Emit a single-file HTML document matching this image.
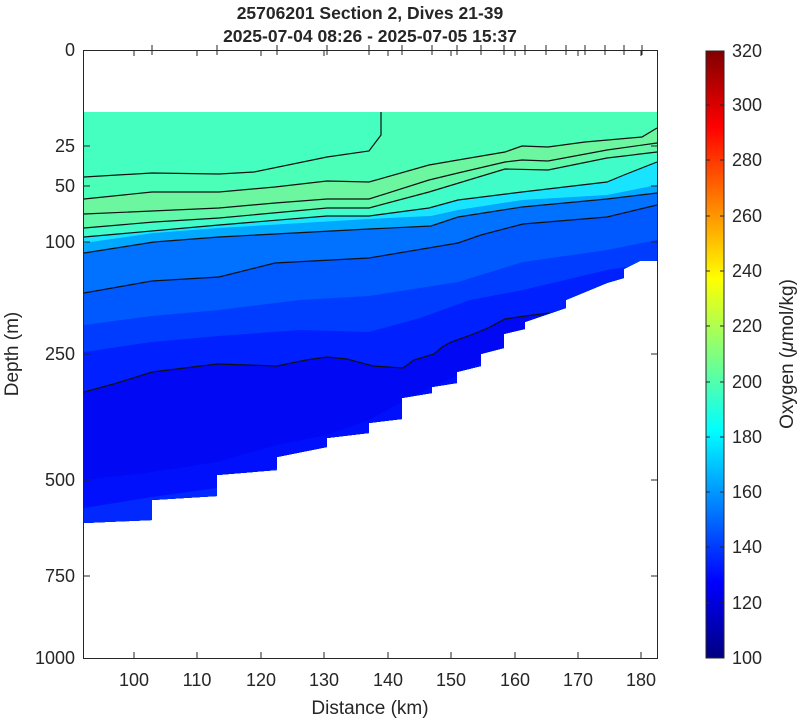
<!DOCTYPE html>
<html><head><meta charset="utf-8"><style>
html,body{margin:0;padding:0;background:#fff;}
svg{display:block;font-family:"Liberation Sans",sans-serif;}
</style></head><body>
<svg width="800" height="721" viewBox="0 0 800 721" xmlns="http://www.w3.org/2000/svg">
<defs>
<clipPath id="dom">
<polygon points="84,112 657,112 657,261 640,261 624,269 624,278 607,283 566,300 566,308 525,322 525,329 504,334 504,348 481,354 481,366 457,372 457,383 432,387 432,393 402,398 402,419 369,423 369,433 327,438 327,447 277,457 277,470 217,475 217,496 152,500 152,520 84,523"/>
</clipPath>
<linearGradient id="jet" x1="0" y1="1" x2="0" y2="0">
<stop offset="0" stop-color="#000080"/>
<stop offset="0.125" stop-color="#0000ff"/>
<stop offset="0.375" stop-color="#00ffff"/>
<stop offset="0.625" stop-color="#ffff00"/>
<stop offset="0.875" stop-color="#ff0000"/>
<stop offset="1" stop-color="#800000"/>
</linearGradient>
</defs>
<g clip-path="url(#dom)">
<rect x="84" y="100" width="573" height="440" fill="#45ffc0"/>
<polygon fill="#4cffb8" points="84,177 152,173 219,174 254,172 327,157 369,151 381,135 381,112 657,112 657,700 84,700"/>
<polygon fill="#6cf6a0" points="84,199 152,192 219,192 275,187 327,181 369,182 429,165 458,160 505,152 522,146 548,147 585,142 642,137 657,128 657,700 84,700"/>
<polygon fill="#60f9aa" points="84,214 219,208 275,203 327,199 369,199 429,180 458,173 505,162 522,160 548,161 607,150 657,143 657,700 84,700"/>
<polygon fill="#40fcc8" points="84,228 154,222 219,218 327,208 369,208 429,192 505,169 548,170 607,158 624,156 657,152 657,700 84,700"/>
<polygon fill="#18e4ff" points="84,237 219,225 327,216 369,216 429,208 458,200 522,192 607,182 624,175 657,162 657,700 84,700"/>
<polygon fill="#00a8ff" points="84,243 154,233 219,228 369,219 431,216 458,210 522,200 607,195 657,185 657,700 84,700"/>
<polygon fill="#0072ff" points="84,253 154,242 219,237 369,229 431,226 458,217 522,207 607,199 657,193 657,700 84,700"/>
<polygon fill="#0058ff" points="84,293 152,281 219,277 275,263 369,258 458,243 481,235 523,224 607,217 657,205 657,700 84,700"/>
<polygon fill="#003cff" points="84,325 152,316 219,310 300,300 369,296 458,282 523,262 607,250 657,240 657,700 84,700"/>
<polygon fill="#0020ff" points="84,352 152,342 219,336 300,330 369,332 420,318 470,300 523,290 607,270 657,262 657,700 84,700"/>
<polygon fill="#0008f4" points="84,392 117,383 152,372 217,364 277,366 306,360 327,357 347,359 373,366 403,368 414,360 434,354 442,347 451,342 471,335 488,328 505,319 525,316 549,313 600,300 657,300 657,700 84,700"/>
<polygon fill="#0010fc" points="84,480 152,472 217,462 277,445 327,435 369,420 402,402 432,387 457,376 481,362 504,346 525,328 549,314 657,314 657,700 84,700"/>
<polygon fill="#0028ff" points="84,508 152,497 217,488 277,468 327,447 369,432 657,432 657,700 84,700"/>
</g>
<g fill="none" stroke="#111" stroke-width="1.2">
<polyline points="84,177 152,173 219,174 254,172 327,157 369,151 381,135 381,112"/>
<polyline points="84,199 152,192 219,192 275,187 327,181 369,182 429,165 458,160 505,152 522,146 548,147 585,142 642,137 657,128"/>
<polyline points="84,214 219,208 275,203 327,199 369,199 429,180 458,173 505,162 522,160 548,161 607,150 657,143"/>
<polyline points="84,228 154,222 219,218 327,208 369,208 429,192 505,169 548,170 607,158 624,156 657,152"/>
<polyline points="84,237 219,225 327,216 369,216 429,208 458,200 522,192 607,182 624,175 657,162"/>
<polyline points="84,253 154,242 219,237 369,229 431,226 458,217 522,207 607,199 657,193"/>
<polyline points="84,293 152,281 219,277 275,263 369,258 458,243 481,235 523,224 607,217 657,205"/>
<polyline points="84,392 117,383 152,372 217,364 277,366 306,360 327,357 347,359 373,366 403,368 414,360 434,354 442,347 451,342 471,335 488,328 505,319 525,316 549,313"/>
</g>
<rect x="83.5" y="50.5" width="574" height="608" fill="none" stroke="#262626" stroke-width="1"/>
<g stroke="#262626" stroke-width="1">
<path d="M84 146h6M84 186h6M84 242h6M84 354h6M84 480h6M84 576h6M657 146h-6M657 186h-6M657 242h-6M657 354h-6M657 480h-6M657 576h-6"/>
<path d="M134 658v-6M197 658v-6M261 658v-6M324 658v-6M388 658v-6M451 658v-6M515 658v-6M578 658v-6M641 658v-6"/>
<path d="M134 50v6M197 50v6M261 50v6M324 50v6M388 50v6M451 50v6M515 50v6M578 50v6M641 50v6"/>
<path d="M152 45v10M217 45v10M277 45v10M327 45v10M369 45v10M402 45v10M432 45v10M457 45v10M481 45v10M504 45v10M525 45v10M546 45v10M566 45v10M585 45v10M605 45v10M624 45v10M642 45v10"/>
</g>
<g font-size="18" fill="#262626" text-anchor="end">
<text x="75" y="56">0</text>
<text x="75" y="152">25</text>
<text x="75" y="192">50</text>
<text x="75" y="248">100</text>
<text x="75" y="360">250</text>
<text x="75" y="486">500</text>
<text x="75" y="582">750</text>
<text x="75" y="664">1000</text>
</g>
<g font-size="18" fill="#262626" text-anchor="middle">
<text x="134" y="686">100</text>
<text x="197" y="686">110</text>
<text x="261" y="686">120</text>
<text x="324" y="686">130</text>
<text x="388" y="686">140</text>
<text x="451" y="686">150</text>
<text x="515" y="686">160</text>
<text x="578" y="686">170</text>
<text x="641" y="686">180</text>
<text x="370" y="714" font-size="19">Distance (km)</text>
<text x="370" y="19" font-weight="bold" font-size="17.5">25706201 Section 2, Dives 21-39</text>
<text x="370" y="42" font-weight="bold" font-size="17.5">2025-07-04 08:26 - 2025-07-05 15:37</text>
</g>
<text x="0" y="0" font-size="19" fill="#262626" text-anchor="middle" transform="translate(18,354) rotate(-90)">Depth (m)</text>
<rect x="706" y="51" width="18" height="607" fill="url(#jet)" stroke="#262626" stroke-width="1"/>
<g stroke="#262626" stroke-width="1">
<path d="M706 105h4M706 160h4M706 216h4M706 271h4M706 326h4M706 382h4M706 437h4M706 492h4M706 547h4M706 603h4M724 105h-4M724 160h-4M724 216h-4M724 271h-4M724 326h-4M724 382h-4M724 437h-4M724 492h-4M724 547h-4M724 603h-4"/>
</g>
<g font-size="18" fill="#262626">
<text x="732" y="57">320</text>
<text x="732" y="111">300</text>
<text x="732" y="166">280</text>
<text x="732" y="222">260</text>
<text x="732" y="277">240</text>
<text x="732" y="332">220</text>
<text x="732" y="388">200</text>
<text x="732" y="443">180</text>
<text x="732" y="498">160</text>
<text x="732" y="553">140</text>
<text x="732" y="609">120</text>
<text x="732" y="664">100</text>
</g>
<text x="0" y="0" font-size="19" fill="#262626" text-anchor="middle" transform="translate(793,354) rotate(-90)">Oxygen (<tspan font-style="italic">μ</tspan>mol/kg)</text>
</svg>
</body></html>
